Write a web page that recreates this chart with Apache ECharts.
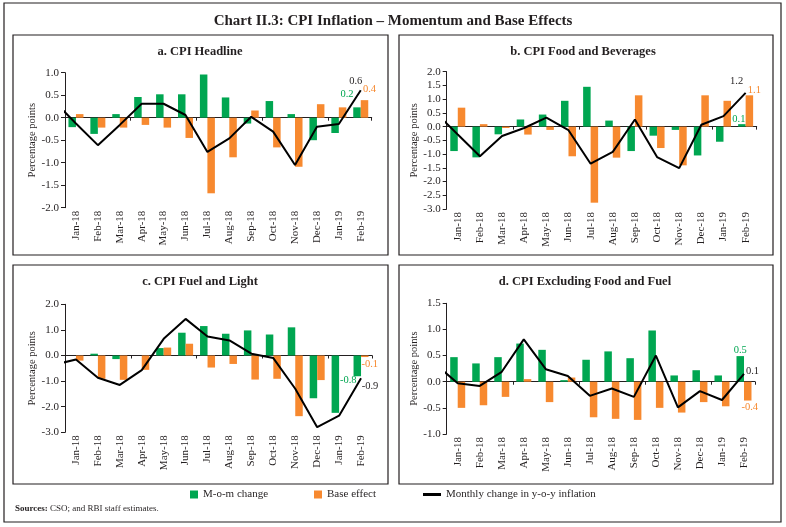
<!DOCTYPE html>
<html>
<head>
<meta charset="utf-8">
<script src="https://cdn.jsdelivr.net/npm/echarts@6/dist/echarts.min.js"></script>
<style>
html,body{margin:0;padding:0;background:#fff;}
#chart{width:786px;height:527px;}
</style>
</head>
<body>
<div id="chart"></div>
<script>
// ---------- DATA ----------
const months = ['Jan-18','Feb-18','Mar-18','Apr-18','May-18','Jun-18','Jul-18','Aug-18','Sep-18','Oct-18','Nov-18','Dec-18','Jan-19','Feb-19'];
// line series includes the preceding month (Dec-17), which is clipped at the y-axis
const lineMonths = ['Dec-17'].concat(months);

const headlineMom  = [-0.21,-0.36,0.08,0.46,0.52,0.52,0.96,0.45,-0.13,0.37,0.08,-0.50,-0.34,0.23];
const headlineBase = [0.08,-0.22,-0.22,-0.16,-0.22,-0.45,-1.68,-0.88,0.16,-0.66,-1.09,0.30,0.23,0.39];
const headlineLine = [0.37,-0.13,-0.61,-0.16,0.31,0.31,0.06,-0.76,-0.46,0.02,-0.31,-1.05,-0.20,-0.14,0.61];

const foodMom  = [-0.89,-1.12,-0.28,0.26,0.44,0.94,1.45,0.22,-0.89,-0.33,-0.12,-1.05,-0.55,0.09];
const foodBase = [0.69,0.09,-0.05,-0.29,-0.12,-1.08,-2.77,-1.13,1.14,-0.78,-1.41,1.14,0.94,1.14];
const foodLine = [0.51,-0.29,-1.08,-0.34,-0.05,0.33,-0.13,-1.35,-0.92,0.26,-1.11,-1.51,0.07,0.38,1.23];

const fuelMom  = [0.00,0.07,-0.14,0.00,0.29,0.89,1.15,0.85,0.98,0.82,1.10,-1.67,-2.24,-0.81];
const fuelBase = [-0.20,-0.91,-0.95,-0.56,0.31,0.46,-0.47,-0.33,-0.94,-0.91,-2.37,-0.96,0.00,-0.06];
const fuelLine = [-0.36,-0.16,-0.87,-1.15,-0.57,0.65,1.43,0.74,0.59,0.07,-0.10,-1.30,-2.80,-2.35,-0.89];

const coreMom  = [0.47,0.35,0.47,0.73,0.61,0.03,0.42,0.58,0.45,0.98,0.12,0.22,0.12,0.49];
const coreBase = [-0.50,-0.45,-0.29,0.05,-0.39,0.08,-0.68,-0.71,-0.73,-0.50,-0.59,-0.39,-0.47,-0.36];
const coreLine = [0.33,-0.03,-0.08,0.19,0.81,0.24,0.11,-0.27,-0.13,-0.29,0.50,-0.49,-0.18,-0.35,0.15];

const panelTitles = ['a. CPI Headline','b. CPI Food and Beverages','c. CPI Fuel and Light','d. CPI Excluding Food and Fuel'];
const seriesNames = ['M-o-m change','Base effect','Monthly change in y-o-y inflation'];
// last-point labels text
const lastLabels = [['0.2','0.4','0.6'],['0.1','1.1','1.2'],['-0.8','-0.1','-0.9'],['0.5','-0.4','0.1']];

// ---------- LAYOUT / STYLE ----------
const GREEN = '#00a651', ORANGE = '#f7892f', INK = '#231f20';
const FONT = "'Liberation Serif', 'DejaVu Serif', serif";

const panels = [
  {mom: headlineMom, base: headlineBase, line: headlineLine, ymin:-2, ymax:1, yint:0.5,
   grid:{left:65, top:72.7, width:306.7, height:135}, box:[13,35,375,220], tpos:[200,52],
   lab:[{pos:'top',off:[-10,-3]},{pos:'top',off:[5,0]},{pos:'top',off:[-5,2]}]},
  {mom: foodMom, base: foodBase, line: foodLine, ymin:-3, ymax:2, yint:0.5,
   grid:{left:446.7, top:71.7, width:310, height:137.3}, box:[399,35,374,220], tpos:[583,52],
   lab:[{pos:'top',off:[-3,6]},{pos:'top',off:[5,5]},{pos:'top',off:[-9,0]}]},
  {mom: fuelMom, base: fuelBase, line: fuelLine, ymin:-3, ymax:2, yint:1,
   grid:{left:65, top:304.3, width:307, height:128}, box:[13,265,375,219], tpos:[200,282],
   lab:[{pos:'bottom',off:[-9,-6]},{pos:'bottom',off:[5,-3]},{pos:'bottom',off:[9,-4]}]},
  {mom: coreMom, base: coreBase, line: coreLine, ymin:-1, ymax:1.5, yint:0.5,
   grid:{left:446.7, top:303.3, width:308.3, height:130.7}, box:[399,265,374,219], tpos:[585,282],
   lab:[{pos:'top',off:[0,5]},{pos:'bottom',off:[2,-4]},{pos:'right',off:[-4,-3]}]}
];

const grids = [], xAxes = [], yAxes = [], series = [], graphics = [];

panels.forEach(function (p, k) {
  grids.push(Object.assign({containLabel:false}, p.grid));
  const xb = xAxes.length;
  // label axis (bottom of plot)
  xAxes.push({type:'category', gridIndex:k, data:months, position:'bottom',
    axisLine:{show:false, onZero:false}, axisTick:{show:false},
    axisLabel:{rotate:90, interval:0, margin:3, fontSize:11, color:INK, fontFamily:FONT}});
  // zero line axis with ticks
  xAxes.push({type:'category', gridIndex:k, data:months, position:'bottom',
    axisLine:{show:true, onZero:true, lineStyle:{color:INK, width:1}},
    axisTick:{show:true, length:3, lineStyle:{color:INK}}, axisLabel:{show:false}});
  // hidden value axis for the line (month index)
  xAxes.push({type:'value', gridIndex:k, min:-0.5, max:13.5, show:false,
    axisLine:{onZero:false}, splitLine:{show:false}});
  yAxes.push({type:'value', gridIndex:k, min:p.ymin, max:p.ymax, interval:p.yint,
    name:'Percentage points', nameLocation:'middle', nameGap:27,
    nameTextStyle:{fontSize:10.5, color:INK, fontFamily:FONT},
    axisLine:{show:true, onZero:false, lineStyle:{color:INK, width:1}},
    axisTick:{show:true, length:4, lineStyle:{color:INK}},
    splitLine:{show:false},
    axisLabel:{margin:6, fontSize:11, color:INK, fontFamily:FONT,
      formatter:function(v){return v.toFixed(1);}}});

  const n = months.length;
  function barData(arr, li, color) {
    return arr.map(function (v, i) {
      if (i === n - 1) {
        return {value:v, label:{show:true, position:p.lab[li].pos, offset:p.lab[li].off,
          formatter:lastLabels[k][li], color:color, fontSize:10.5, fontFamily:FONT}};
      }
      return v;
    });
  }
  series.push({name:seriesNames[0], type:'bar', xAxisIndex:xb, yAxisIndex:k,
    data:barData(p.mom, 0, GREEN), barWidth:7.5, barGap:'0%', itemStyle:{color:GREEN},
    label:{show:false}, animation:false});
  series.push({name:seriesNames[1], type:'bar', xAxisIndex:xb, yAxisIndex:k,
    data:barData(p.base, 1, ORANGE), barWidth:7.5, barGap:'0%', itemStyle:{color:ORANGE},
    label:{show:false}, animation:false});
  const lineData = p.line.map(function (v, i) {
    const x = i - 1; // Dec-17 sits at index -1
    if (i === p.line.length - 1) {
      return {value:[x, v], label:{show:true, position:p.lab[2].pos, offset:p.lab[2].off,
        formatter:lastLabels[k][2], color:INK, fontSize:10.5, fontFamily:FONT}};
    }
    return [x, v];
  });
  series.push({name:seriesNames[2], type:'line', xAxisIndex:xb + 2, yAxisIndex:k,
    data:lineData, symbol:'circle', symbolSize:2, showSymbol:true, clip:true, color:'#000',
    itemStyle:{color:'rgba(0,0,0,0)', borderWidth:0},
    lineStyle:{color:'#000', width:2}, label:{show:false}, animation:false, z:5});

  graphics.push({type:'rect', shape:{x:p.box[0], y:p.box[1], width:p.box[2], height:p.box[3]},
    style:{fill:null, stroke:INK, lineWidth:1.2}, silent:true});
  graphics.push({type:'text', x:p.tpos[0], y:p.tpos[1],
    style:{text:panelTitles[k], font:'bold 12.5px ' + FONT, fill:INK, textAlign:'center', textVerticalAlign:'middle'}});
});

// outer frame, main title, sources
graphics.push({type:'rect', shape:{x:4, y:3, width:777, height:519},
  style:{fill:null, stroke:INK, lineWidth:1.2}, silent:true});
graphics.push({type:'text', x:393, y:21,
  style:{text:'Chart II.3: CPI Inflation \u2013 Momentum and Base Effects', font:'bold 15px ' + FONT,
    fill:INK, textAlign:'center', textVerticalAlign:'middle'}});
graphics.push({type:'text', x:15, y:509,
  style:{text:'{b|Sources:} CSO; and RBI staff estimates.', font:'9px ' + FONT, fill:INK,
    textVerticalAlign:'middle', rich:{b:{fontWeight:'bold', fontSize:9, fontFamily:FONT, fill:INK}}}});

const legTS = {fontSize:11, color:INK, fontFamily:FONT};
const option = {
  backgroundColor:'#fff',
  animation:false,
  grid:grids, xAxis:xAxes, yAxis:yAxes, series:series,
  legend:[
    {data:[seriesNames[0]], left:190, top:489, icon:'rect', itemWidth:8, itemHeight:8, textStyle:legTS, padding:0},
    {data:[seriesNames[1]], left:314, top:489, icon:'rect', itemWidth:8, itemHeight:8, textStyle:legTS, padding:0},
    {data:[{name:seriesNames[2], itemStyle:{color:'#000'}}], left:423, top:489, icon:'rect', itemWidth:18, itemHeight:3, textStyle:legTS, padding:0}
  ],
  graphic:graphics
};
const chart = echarts.init(document.getElementById('chart'), null, {renderer:'canvas'});
chart.setOption(option);
</script>
</body>
</html>
